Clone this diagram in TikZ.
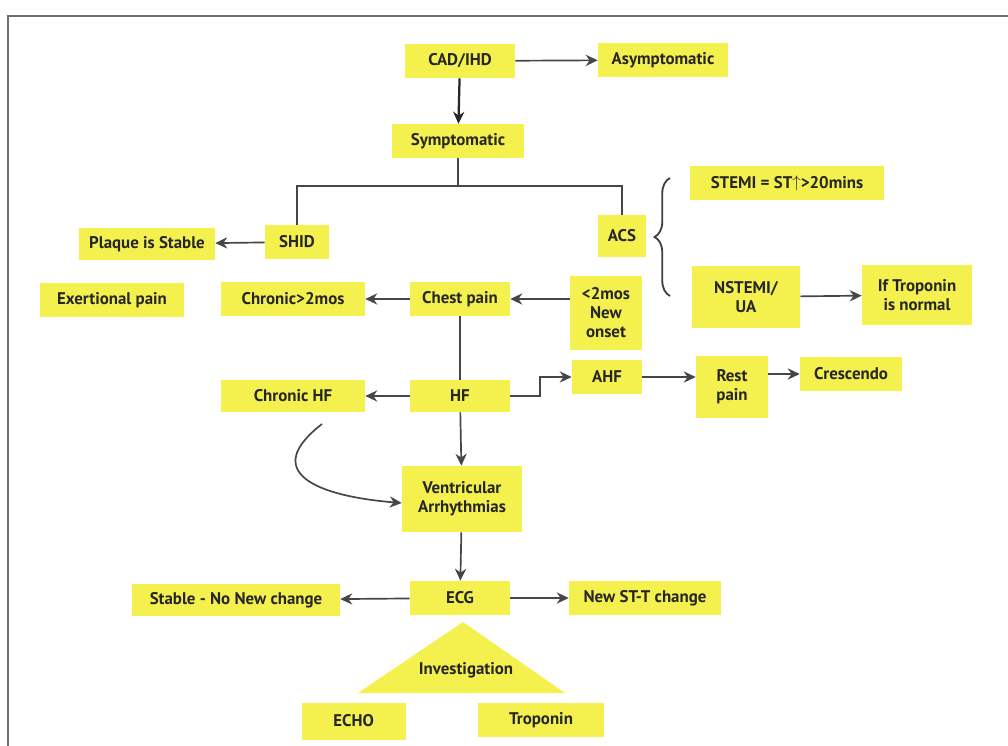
\documentclass[tikz,border=0pt]{standalone}
\usepackage{fontspec}
\setmainfont{PT Sans}
\usepackage{xcolor}
\definecolor{noteyellow}{RGB}{244,240,78}
\definecolor{inkgray}{RGB}{70,70,70}
\definecolor{framegray}{RGB}{110,110,110}
\usepackage{tikz}
\usetikzlibrary{positioning,arrows.meta,calc,decorations.pathreplacing}
\tikzset{
  note/.style    ={rectangle,fill=noteyellow,align=center,inner sep=2pt,
                   minimum height=8.5mm,font=\bfseries\fontsize{12}{13.5}\selectfont,text=black!85},
  flow/.style    ={-{Stealth[length=3mm,width=2.8mm]},line width=1.2pt,draw=inkgray},
  link/.style    ={line width=1.1pt,draw=inkgray},
}

\begin{document}
\begin{tikzpicture}
  \useasboundingbox (0,0) rectangle (25.2,-18.65);
  \draw[framegray,line width=0.8pt] (0.2,-18.65) -- (0.2,-0.4) -- (25.2,-0.4);
  % top of the tree
  \node[note,minimum width=27.5mm] (cad) at (11.5,-1.525) {CAD/IHD};
  \node[note,minimum width=32.5mm] (asym) at (16.575,-1.5) {Asymptomatic};
  \node[note,minimum width=33mm] (sym) at (11.45,-3.525) {Symptomatic};
  \node[note,minimum width=16mm] (shid) at (7.425,-6.05) {SHID};
  \node[note,minimum width=12mm,minimum height=10.5mm] (acs) at (15.55,-5.9) {ACS};
  \node[note,minimum width=34mm,minimum height=8mm] (plaque) at (3.675,-6.1) {Plaque is Stable};
  \node[note,minimum width=48.5mm] (stemi) at (19.675,-4.575) {STEMI = ST\raisebox{1pt}{$\uparrow$}>20mins};
  \node[note,minimum width=27mm,minimum height=15.5mm] (nstemi) at (18.65,-7.425) {NSTEMI/\\UA};
  \node[note,minimum width=27.5mm,minimum height=15mm] (iftrop) at (22.925,-7.375) {If Troponin\\is normal};
  % pain row
  \node[note,minimum width=36mm] (exert) at (2.8,-7.5) {Exertional pain};
  \node[note,minimum width=36mm] (chron) at (7.325,-7.475) {Chronic>2mos};
  \node[note,minimum width=25mm] (chest) at (11.5,-7.475) {Chest pain};
  \node[note,minimum width=18mm,minimum height=18.5mm] (onset) at (15.15,-7.825) {<2mos\\New\\onset};
  % heart failure row
  \node[note,minimum width=25mm,minimum height=8mm] (hf) at (11.5,-9.9) {HF};
  \node[note,minimum width=36mm,minimum height=8mm] (chf) at (7.325,-9.9) {Chronic HF};
  \node[note,minimum width=17.5mm] (ahf) at (15.175,-9.425) {AHF};
  \node[note,minimum width=18mm,minimum height=15.5mm] (rest) at (18.3,-9.675) {Rest\\pain};
  \node[note,minimum width=25.5mm] (cresc) at (21.275,-9.35) {Crescendo};
  \node[note,minimum width=30mm,minimum height=16.5mm] (vent) at (11.55,-12.475) {Ventricular\\Arrhythmias};
  % ECG and investigations
  \node[note,minimum width=25mm] (ecg) at (11.5,-14.95) {ECG};
  \node[note,minimum width=52mm,minimum height=8mm] (stable) at (5.9,-15.0) {Stable - No New change};
  \node[note,minimum width=38mm] (newst) at (16.125,-14.95) {New ST-T change};
  \fill[noteyellow] (11.575,-15.55) -- (14.125,-17.325) -- (8.95,-17.325) -- cycle;
  \node[note,fill=none] (invest) at (11.65,-16.75) {Investigation};
  \node[note,minimum width=26mm,minimum height=9.25mm] (echo) at (8.84,-18.025) {ECHO};
  \node[note,minimum width=31.5mm] (trop) at (13.525,-18.0) {Troponin};

  \coordinate (split) at (11.45,-4.65);
  \coordinate (bend) at ($(hf.east)+(0.75,0)$);
  \coordinate (swirl) at (8.05,-10.6);

  \draw[flow] (cad) -- (asym);
  \draw[flow,line width=1.6pt,draw=black!85] (cad) -- (sym);
  \draw[link] (sym) -- (split);
  \draw[link] (shid.north) |- (split) -| (acs.north);
  \draw[flow] (shid) -- (plaque);
  \draw[line width=1.3pt,draw=black!75,decorate,decoration={brace,amplitude=11pt}]
    (16.75,-7.4) -- (16.75,-4.45);
  \draw[flow] (nstemi) -- (iftrop);
  \draw[flow] (onset.west |- chest) -- (chest);
  \draw[flow] (chest) -- (chron);
  \draw[link] (chest) -- (hf);
  \draw[flow] (hf) -- (chf);
  \draw[flow] (hf.east) -- (bend) |- (ahf.west);
  \draw[flow] (ahf) -- (ahf -| rest.west);
  \draw[flow] (rest.east |- cresc) -- (cresc);
  \draw[flow] (hf) -- (vent);
  \draw[flow] (swirl) .. controls (6.5,-11.8) and (7.9,-12.4) .. ([yshift=-1mm]vent.west);
  \draw[flow] (vent) -- (ecg);
  \draw[flow] (ecg) -- (stable);
  \draw[flow] (ecg) -- (newst);
\end{tikzpicture}
\end{document}
